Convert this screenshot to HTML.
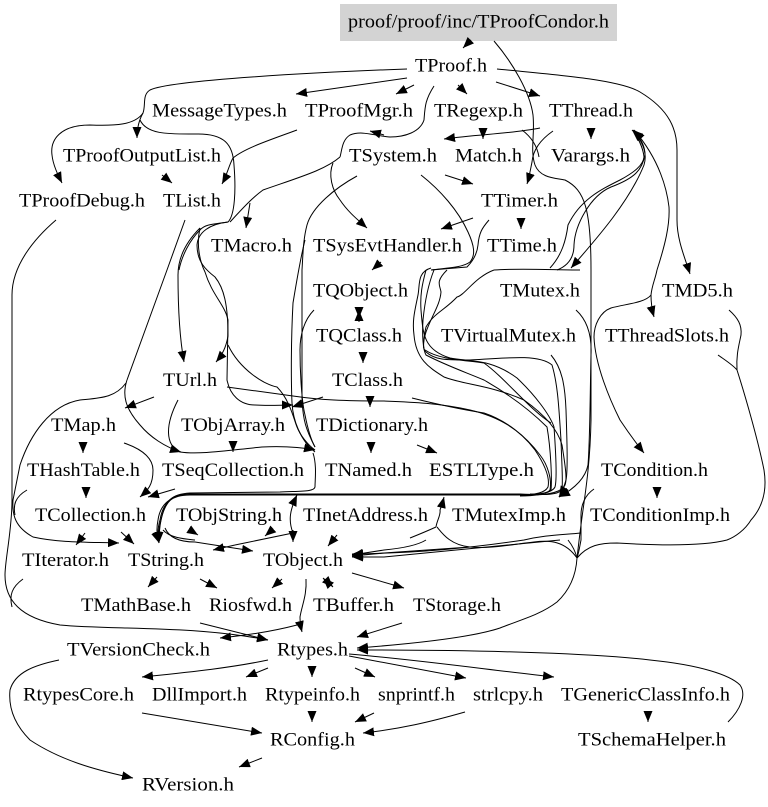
<!DOCTYPE html>
<html><head><meta charset="utf-8"><style>
html,body{margin:0;padding:0;background:#fff}
svg{display:block}
text{font-family:"Liberation Serif",serif;font-size:19px;fill:#000}
path.e{fill:none;stroke:#000;stroke-width:1}
</style></head><body>
<svg width="768" height="807" viewBox="0 0 768 807" xmlns="http://www.w3.org/2000/svg">
<defs><marker id="a" viewBox="0 0 11 9" refX="11" refY="4.5" markerWidth="11" markerHeight="9" markerUnits="userSpaceOnUse" orient="auto"><path d="M0,0L11,4.5L0,9z" fill="#000"/></marker></defs>
<rect x="340" y="4" width="277" height="37" fill="#d3d3d3"/>
<g class="edges">
<path class="e" marker-end="url(#a)" d="M471,40L463,48"/>
<path class="e" d="M494,41C512,62 530,92 533,115C535,135 530,150 535,165C540,178 555,178 565,180C585,190 591,210 591,270L591,420C590,470 584,500 581,525C579,540 578,550 577,558"/>
<path class="e" marker-end="url(#a)" d="M407,69C320,72 170,80 150,90C142,95 146,105 143,113C135,125 115,126 90,125C60,125 50,140 52,155C53,165 58,175 62,183"/>
<path class="e" marker-end="url(#a)" d="M143,113C139,120 137,128 137,138"/>
<path class="e" d="M140,120C147,135 170,134 195,134C225,133 233,145 234,165C236,190 235,215 228,222C215,224 205,224 200,230C190,240 182,255 179,270"/>
<path class="e" marker-end="url(#a)" d="M200,228C188,240 178,255 178,275C178,310 180,340 184,362"/>
<path class="e" marker-end="url(#a)" d="M228,222C210,224 198,232 197,245C197,262 206,270 215,277C224,288 228,305 228,336C226,348 222,355 216,362"/>
<path class="e" marker-end="url(#a)" d="M200,228C196,245 200,262 205,272C212,295 225,305 228,320L227,380C230,395 240,405 255,405C270,406 280,405 293,405"/>
<path class="e" d="M228,345C240,370 265,385 277,387C290,400 294,420 297,427C300,435 308,445 315,450"/>
<path class="e" d="M340,157C325,170 300,177 263,190C252,198 243,208 230,222"/>
<path class="e" marker-end="url(#a)" d="M250,203L246,228"/>
<path class="e" marker-end="url(#a)" d="M407,78L296,94"/>
<path class="e" marker-end="url(#a)" d="M414,85L396,94"/>
<path class="e" marker-end="url(#a)" d="M458,85L467,94"/>
<path class="e" marker-end="url(#a)" d="M496,82L540,96"/>
<path class="e" d="M434,86C425,100 425,107 424,120C420,132 405,137 390,137C375,136 362,130 350,135C342,140 342,150 340,157"/>
<path class="e" marker-end="url(#a)" d="M384,135L370,131"/>
<path class="e" marker-end="url(#a)" d="M497,69C560,75 620,80 640,92C670,110 677,130 677,150L677,220C677,240 685,258 690,274"/>
<path class="e" marker-end="url(#a)" d="M297,130C270,140 245,148 233,158C229,165 227,175 222,184"/>
<path class="e" marker-end="url(#a)" d="M162,175L172,183"/>
<path class="e" marker-end="url(#a)" d="M56,220C35,238 12,265 12,295L12,500C12,530 5,560 5,575C5,600 20,618 60,625C110,630 190,625 268,640"/>
<path class="e" d="M185,220L167,270L127,380"/>
<path class="e" marker-end="url(#a)" d="M127,380C122,395 125,408 140,425C150,437 165,447 181,452"/>
<path class="e" marker-end="url(#a)" d="M126,383C115,398 100,398 80,400C50,405 30,435 20,465L13,500C12,515 15,527 33,537C60,543 90,542 119,543"/>
<path class="e" marker-end="url(#a)" d="M154,397L125,408"/>
<path class="e" marker-end="url(#a)" d="M178,400C165,425 165,445 180,452C200,455 230,450 262,447C285,446 300,447 315,450"/>
<path class="e" marker-end="url(#a)" d="M233,442L233,452"/>
<path class="e" marker-end="url(#a)" d="M83,442L83,453"/>
<path class="e" marker-end="url(#a)" d="M124,443C145,450 153,460 153,470C153,485 148,490 140,497"/>
<path class="e" marker-end="url(#a)" d="M86,487L86,498"/>
<path class="e" marker-end="url(#a)" d="M175,489L148,497"/>
<path class="e" d="M27,490C15,497 13,505 15,515"/>
<path class="e" marker-end="url(#a)" d="M85,533L76,545"/>
<path class="e" marker-end="url(#a)" d="M121,532L134,544"/>
<path class="e" d="M23,579C12,587 9,595 12,607"/>
<path class="e" marker-end="url(#a)" d="M157,577L148,587"/>
<path class="e" marker-end="url(#a)" d="M200,579L217,588"/>
<path class="e" marker-end="url(#a)" d="M282,579L272,588"/>
<path class="e" marker-end="url(#a)" d="M326,581L323,578"/>
<path class="e" marker-end="url(#a)" d="M329,583L333,587"/>
<path class="e" marker-end="url(#a)" d="M306,579C307,595 302,605 300,617C300,623 301,628 302,632"/>
<path class="e" marker-end="url(#a)" d="M297,625C270,632 247,635 220,638"/>
<path class="e" marker-end="url(#a)" d="M200,623L268,640"/>
<path class="e" marker-end="url(#a)" d="M402,623L357,637"/>
<path class="e" marker-end="url(#a)" d="M352,573L404,588"/>
<path class="e" marker-end="url(#a)" d="M59,660C35,665 15,672 10,690C8,710 17,727 30,740C60,760 95,770 133,778"/>
<path class="e" marker-end="url(#a)" d="M268,660C230,668 190,672 142,677"/>
<path class="e" marker-end="url(#a)" d="M268,668L246,677"/>
<path class="e" marker-end="url(#a)" d="M312,666L312,677"/>
<path class="e" marker-end="url(#a)" d="M355,668L375,677"/>
<path class="e" marker-end="url(#a)" d="M349,656L466,678"/>
<path class="e" marker-end="url(#a)" d="M349,654C420,660 490,670 554,677"/>
<path class="e" marker-end="url(#a)" d="M577,558C576,575 570,590 557,602C540,615 520,620 500,628C470,638 410,644 357,648"/>
<path class="e" marker-end="url(#a)" d="M728,722C740,710 747,695 740,685C730,675 700,665 650,660C600,654 500,650 357,650"/>
<path class="e" marker-end="url(#a)" d="M142,713L262,733"/>
<path class="e" marker-end="url(#a)" d="M312,711L312,722"/>
<path class="e" marker-end="url(#a)" d="M374,713L355,722"/>
<path class="e" marker-end="url(#a)" d="M465,712C430,722 400,729 363,733"/>
<path class="e" marker-end="url(#a)" d="M262,758L239,767"/>
<path class="e" marker-end="url(#a)" d="M648,711L648,722"/>
<path class="e" marker-end="url(#a)" d="M591,128L591,139"/>
<path class="e" marker-end="url(#a)" d="M483,128L483,139"/>
<path class="e" marker-end="url(#a)" d="M553,131C540,140 533,150 532,162C530,172 529,178 527,184"/>
<path class="e" marker-end="url(#a)" d="M540,128C510,134 480,134 444,139"/>
<path class="e" d="M522,130C530,136 537,145 539,157"/>
<path class="e" marker-end="url(#a)" d="M445,175L473,184"/>
<path class="e" marker-end="url(#a)" d="M473,218L441,229"/>
<path class="e" marker-end="url(#a)" d="M521,218L521,229"/>
<path class="e" d="M489,220C482,228 479,233 478,245C477,255 472,262 467,267L431,270"/>
<path class="e" d="M421,175C440,190 458,210 468,232C474,245 476,255 470,262C462,268 445,268 431,270"/>
<path class="e" marker-end="url(#a)" d="M333,163C328,175 332,190 340,200C348,212 358,220 367,228"/>
<path class="e" d="M357,176C335,188 312,207 307,225C303,240 303,255 302,270L302,400C303,420 306,430 315,447"/>
<path class="e" d="M305,240C300,260 296,285 293,303C291,340 291,380 292,403C293,420 300,440 315,452"/>
<path class="e" marker-end="url(#a)" d="M381,262L372,270"/>
<path class="e" marker-end="url(#a)" d="M359,307L359,318"/>
<path class="e" marker-end="url(#a)" d="M359,322L359,310"/>
<path class="e" marker-end="url(#a)" d="M363,352L363,363"/>
<path class="e" marker-end="url(#a)" d="M370,397L370,407"/>
<path class="e" marker-end="url(#a)" d="M371,442L371,453"/>
<path class="e" marker-end="url(#a)" d="M417,445L437,453"/>
<path class="e" marker-end="url(#a)" d="M323,397L292,407"/>
<path class="e" d="M314,310C304,320 300,335 300,350C300,375 302,403 305,415C308,430 311,440 315,447"/>
<path class="e" d="M227,387L293,396C320,400 345,401 384,401C410,402 440,403 470,410C500,417 520,430 535,450C545,465 550,478 548,487C545,493 535,495 520,495"/>
<path class="e" d="M412,398C440,405 465,410 484,413C505,420 525,435 540,455C548,465 552,480 550,490C547,494 535,496 520,496"/>
<path class="e" d="M313,453C317,465 315,480 315,487C314,492 300,491 280,492L190,493C172,494 165,500 161,520C159,530 159,538 159,543"/>
<path class="e" marker-end="url(#a)" d="M431,268C417,272 420,285 418,295C415,310 412,320 414,335C416,360 430,368 444,377C465,385 490,385 524,400C545,415 558,430 562,445C566,470 567,480 565,485C562,492 550,495 530,495L190,494C172,494 165,502 161,520C158,530 159,537 159,543"/>
<path class="e" marker-end="url(#a)" d="M426,270C422,285 420,295 421,310C423,335 424,350 450,358C470,362 490,358 517,378C535,395 550,415 554,427C556,455 557,480 555,487C552,493 540,495 520,495L190,495C172,495 163,502 160,520C157,530 158,537 159,543"/>
<path class="e" marker-end="url(#a)" d="M434,270C428,285 425,300 423,320C422,335 423,350 426,355C445,365 465,372 484,380C510,395 530,410 547,427C551,450 552,480 551,490C546,494 535,495 520,494L190,494C170,495 160,505 158,520C156,530 157,537 159,543"/>
<path class="e" d="M447,270C435,282 440,285 441,292C440,305 432,315 426,332C422,345 423,350 426,352C435,360 445,360 470,360C515,357 540,355 552,365C558,385 559,410 561,440C562,470 563,480 562,490C557,495 545,495 530,494"/>
<path class="e" d="M494,270C475,277 465,295 457,297C445,310 434,313 426,327C423,340 423,350 425,350C440,360 465,360 484,363C505,378 530,410 551,423"/>
<path class="e" d="M580,270C555,270 520,268 494,270"/>
<path class="e" marker-end="url(#a)" d="M551,355C562,368 565,385 566,410C567,440 568,470 566,480C564,487 562,492 559,497"/>
<path class="e" marker-end="url(#a)" d="M576,310C587,320 592,335 591,355C590,400 590,440 588,465C585,480 572,490 559,497"/>
<path class="e" marker-end="url(#a)" d="M657,270C655,280 652,285 651,295C651,303 652,310 654,317"/>
<path class="e" marker-end="url(#a)" d="M651,295C645,303 625,304 611,308C600,312 594,325 594,337C595,365 610,400 620,420C628,432 636,443 644,453"/>
<path class="e" marker-end="url(#a)" d="M657,270C665,245 670,225 669,207C667,190 660,160 634,130"/>
<path class="e" marker-end="url(#a)" d="M557,270C570,265 574,255 574,245C575,225 590,196 611,187C635,178 642,170 645,155C645,145 640,137 632,130"/>
<path class="e" d="M550,268C562,255 566,240 568,225C580,200 600,190 620,180C635,172 643,165 644,157C643,147 638,138 633,130"/>
<path class="e" marker-end="url(#a)" d="M633,130C645,145 647,155 644,165C630,200 600,235 571,268"/>
<path class="e" d="M718,355C725,360 733,365 737,370C745,395 758,440 764,470C768,495 760,510 751,520C745,530 735,537 727,540C700,547 650,545 617,543C600,543 588,545 577,558"/>
<path class="e" d="M729,310C738,318 742,325 741,335C739,345 736,355 737,370"/>
<path class="e" marker-end="url(#a)" d="M657,487L657,498"/>
<path class="e" d="M594,489C585,495 581,505 581,515L581,540C580,545 579,552 577,558"/>
<path class="e" d="M437,527C442,533 450,545 470,547C490,549 515,544 534,542C550,540 565,541 577,558"/>
<path class="e" d="M568,540C572,545 575,550 577,558"/>
<path class="e" marker-end="url(#a)" d="M436,527C437,520 441,515 440,510C442,505 443,501 444,497"/>
<path class="e" d="M436,527C425,532 420,534 410,538"/>
<path class="e" marker-end="url(#a)" d="M581,533C560,535 545,535 524,540C470,548 420,553 352,554"/>
<path class="e" marker-end="url(#a)" d="M426,540C418,545 405,548 384,550L352,555"/>
<path class="e" marker-end="url(#a)" d="M470,547L384,553L352,556"/>
<path class="e" marker-end="url(#a)" d="M560,540L384,557L352,557"/>
<path class="e" marker-end="url(#a)" d="M165,528C170,540 185,542 195,542L253,551"/>
<path class="e" d="M163,530C170,538 185,539 195,540"/>
<path class="e" marker-end="url(#a)" d="M235,545L213,550"/>
<path class="e" d="M235,545L293,533"/>
<path class="e" marker-end="url(#a)" d="M293,533C288,520 290,510 297,495"/>
<path class="e" marker-end="url(#a)" d="M293,530L293,542"/>
<path class="e" marker-end="url(#a)" d="M190,530L198,535"/>
<path class="e" marker-end="url(#a)" d="M272,530L265,536"/>
<path class="e" marker-end="url(#a)" d="M337,535L328,546"/>
</g>
<g>
<text x="348" y="27.5" textLength="261" lengthAdjust="spacingAndGlyphs">proof/proof/inc/TProofCondor.h</text>
<text x="415" y="71.7" textLength="72" lengthAdjust="spacingAndGlyphs">TProof.h</text>
<text x="152" y="116.6" textLength="135" lengthAdjust="spacingAndGlyphs">MessageTypes.h</text>
<text x="305" y="116.6" textLength="108" lengthAdjust="spacingAndGlyphs">TProofMgr.h</text>
<text x="434" y="116.6" textLength="89" lengthAdjust="spacingAndGlyphs">TRegexp.h</text>
<text x="549" y="116.6" textLength="84" lengthAdjust="spacingAndGlyphs">TThread.h</text>
<text x="63" y="161.6" textLength="158" lengthAdjust="spacingAndGlyphs">TProofOutputList.h</text>
<text x="349" y="161.6" textLength="88" lengthAdjust="spacingAndGlyphs">TSystem.h</text>
<text x="455" y="161.6" textLength="67" lengthAdjust="spacingAndGlyphs">Match.h</text>
<text x="551" y="161.6" textLength="79" lengthAdjust="spacingAndGlyphs">Varargs.h</text>
<text x="19" y="206.5" textLength="126" lengthAdjust="spacingAndGlyphs">TProofDebug.h</text>
<text x="163" y="206.5" textLength="58" lengthAdjust="spacingAndGlyphs">TList.h</text>
<text x="481" y="206.5" textLength="77" lengthAdjust="spacingAndGlyphs">TTimer.h</text>
<text x="211" y="251.4" textLength="81" lengthAdjust="spacingAndGlyphs">TMacro.h</text>
<text x="313" y="251.4" textLength="149" lengthAdjust="spacingAndGlyphs">TSysEvtHandler.h</text>
<text x="487" y="251.4" textLength="70" lengthAdjust="spacingAndGlyphs">TTime.h</text>
<text x="313" y="296.4" textLength="95" lengthAdjust="spacingAndGlyphs">TQObject.h</text>
<text x="500" y="296.4" textLength="80" lengthAdjust="spacingAndGlyphs">TMutex.h</text>
<text x="662" y="296.4" textLength="71" lengthAdjust="spacingAndGlyphs">TMD5.h</text>
<text x="316" y="341.3" textLength="86" lengthAdjust="spacingAndGlyphs">TQClass.h</text>
<text x="441" y="341.3" textLength="135" lengthAdjust="spacingAndGlyphs">TVirtualMutex.h</text>
<text x="605" y="341.3" textLength="124" lengthAdjust="spacingAndGlyphs">TThreadSlots.h</text>
<text x="163" y="386.2" textLength="54" lengthAdjust="spacingAndGlyphs">TUrl.h</text>
<text x="332" y="386.2" textLength="71" lengthAdjust="spacingAndGlyphs">TClass.h</text>
<text x="51" y="431.1" textLength="65" lengthAdjust="spacingAndGlyphs">TMap.h</text>
<text x="181" y="431.1" textLength="104" lengthAdjust="spacingAndGlyphs">TObjArray.h</text>
<text x="316" y="431.1" textLength="112" lengthAdjust="spacingAndGlyphs">TDictionary.h</text>
<text x="27" y="476" textLength="113" lengthAdjust="spacingAndGlyphs">THashTable.h</text>
<text x="162" y="476" textLength="142" lengthAdjust="spacingAndGlyphs">TSeqCollection.h</text>
<text x="325" y="476" textLength="87" lengthAdjust="spacingAndGlyphs">TNamed.h</text>
<text x="429" y="476" textLength="105" lengthAdjust="spacingAndGlyphs">ESTLType.h</text>
<text x="601" y="476" textLength="107" lengthAdjust="spacingAndGlyphs">TCondition.h</text>
<text x="35" y="521" textLength="111" lengthAdjust="spacingAndGlyphs">TCollection.h</text>
<text x="176" y="521" textLength="106" lengthAdjust="spacingAndGlyphs">TObjString.h</text>
<text x="303" y="521" textLength="125" lengthAdjust="spacingAndGlyphs">TInetAddress.h</text>
<text x="452" y="521" textLength="114" lengthAdjust="spacingAndGlyphs">TMutexImp.h</text>
<text x="590" y="521" textLength="140" lengthAdjust="spacingAndGlyphs">TConditionImp.h</text>
<text x="22" y="566" textLength="87" lengthAdjust="spacingAndGlyphs">TIterator.h</text>
<text x="128" y="566" textLength="76" lengthAdjust="spacingAndGlyphs">TString.h</text>
<text x="263" y="566" textLength="80" lengthAdjust="spacingAndGlyphs">TObject.h</text>
<text x="81" y="610.8" textLength="110" lengthAdjust="spacingAndGlyphs">TMathBase.h</text>
<text x="209" y="610.8" textLength="83" lengthAdjust="spacingAndGlyphs">Riosfwd.h</text>
<text x="313" y="610.8" textLength="81" lengthAdjust="spacingAndGlyphs">TBuffer.h</text>
<text x="413" y="610.8" textLength="88" lengthAdjust="spacingAndGlyphs">TStorage.h</text>
<text x="67" y="655.7" textLength="143" lengthAdjust="spacingAndGlyphs">TVersionCheck.h</text>
<text x="277" y="655.7" textLength="71" lengthAdjust="spacingAndGlyphs">Rtypes.h</text>
<text x="23" y="700.7" textLength="111" lengthAdjust="spacingAndGlyphs">RtypesCore.h</text>
<text x="152" y="700.7" textLength="95" lengthAdjust="spacingAndGlyphs">DllImport.h</text>
<text x="265" y="700.7" textLength="95" lengthAdjust="spacingAndGlyphs">Rtypeinfo.h</text>
<text x="378" y="700.7" textLength="77" lengthAdjust="spacingAndGlyphs">snprintf.h</text>
<text x="473" y="700.7" textLength="70" lengthAdjust="spacingAndGlyphs">strlcpy.h</text>
<text x="561" y="700.7" textLength="169" lengthAdjust="spacingAndGlyphs">TGenericClassInfo.h</text>
<text x="270" y="745.6" textLength="85" lengthAdjust="spacingAndGlyphs">RConfig.h</text>
<text x="578" y="745.6" textLength="148" lengthAdjust="spacingAndGlyphs">TSchemaHelper.h</text>
<text x="142" y="790.5" textLength="92" lengthAdjust="spacingAndGlyphs">RVersion.h</text>
</g>
</svg>
</body></html>
